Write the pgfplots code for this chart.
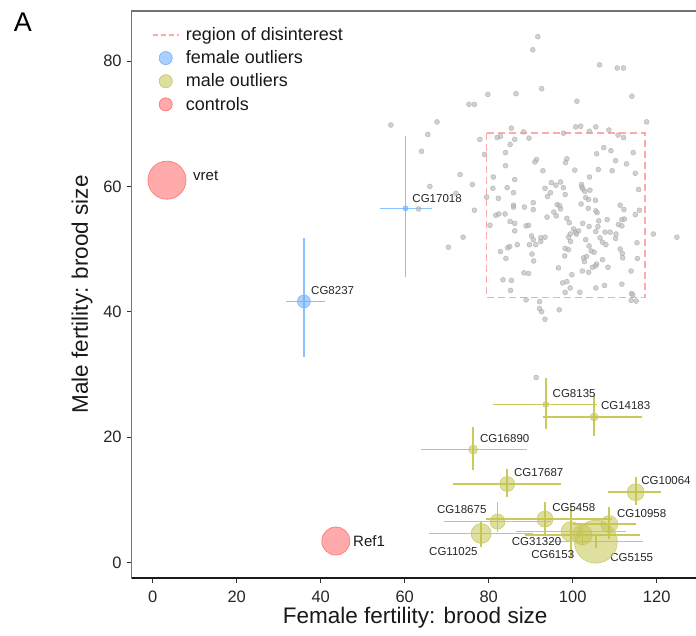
\documentclass[border=0pt]{standalone}
\usepackage{pgfplots}
\pgfplotsset{compat=1.18}
\usepackage{pgfplotstable}
\usepackage{fontspec}
\setmainfont{Liberation Sans}
\definecolor{dotfill}{HTML}{B8B8B8}
\definecolor{dotdraw}{HTML}{A8A8A8}
\definecolor{regionc}{HTML}{FFAAAA}
\definecolor{femfill}{HTML}{66AAFF}
\definecolor{femdraw}{HTML}{80BBFF}
\definecolor{femerr}{HTML}{88C2FF}
\definecolor{malfill}{HTML}{C4C450}
\definecolor{maldraw}{HTML}{CCCC70}
\definecolor{malerr}{HTML}{CACA5A}
\definecolor{ctlfill}{HTML}{FF6666}
\definecolor{ctldraw}{HTML}{FF8080}

\pgfplotstableread{
x y
91.7 83.9
90.5 81.8
92.6 75.6
79.8 74.7
86.5 74.8
75.3 73.1
76.6 73.1
67.7 70.3
65.5 68.3
64.0 65.6
85.4 69.3
88.3 68.7
77.9 67.5
82.0 67.8
82.8 68.0
86.2 67.5
89.6 67.7
85.1 66.7
84.0 65.4
79.0 65.1
91.0 63.9
91.4 64.3
84.0 63.3
92.9 62.5
73.2 61.9
81.1 61.5
86.2 61.1
106.4 79.4
110.6 78.9
112.1 78.9
101.0 73.6
114.1 74.4
117.6 70.3
100.7 69.5
101.9 69.6
105.5 69.5
97.8 68.5
104.0 68.8
108.6 69.0
110.8 68.2
112.1 67.8
107.4 66.2
109.1 65.7
105.7 65.2
114.4 65.4
98.6 64.4
98.3 63.8
110.2 64.1
112.8 63.6
100.5 62.6
106.1 62.7
109.4 62.5
114.9 62.1
104.0 61.5
66.0 60.0
76.1 60.3
72.2 58.9
81.0 59.7
84.4 59.8
85.9 59.0
93.4 59.7
94.0 58.4
79.5 58.3
82.3 58.1
63.3 56.4
76.6 56.2
85.9 57.0
85.9 56.7
88.5 56.7
90.6 57.4
90.6 56.3
81.7 55.4
82.4 55.6
83.9 55.6
93.9 55.1
85.1 54.4
86.2 54.1
80.3 53.8
88.9 53.7
89.5 53.8
86.2 52.9
73.9 51.9
70.4 50.3
90.2 52.1
90.6 51.5
92.4 51.8
93.4 51.9
92.4 51.2
86.8 50.7
89.7 50.7
91.2 50.7
84.5 50.2
85.0 50.4
82.8 49.6
84.1 48.5
90.3 49.2
90.7 48.1
88.4 46.2
89.5 46.1
83.4 45.1
85.4 45.0
85.2 43.4
88.9 41.9
92.1 41.6
92.1 40.5
92.6 40.0
93.4 38.8
97.1 60.7
94.9 60.6
96.0 60.2
97.8 59.8
102.1 60.3
102.2 59.9
102.4 59.6
102.9 59.2
104.1 59.4
94.7 59.0
98.2 58.7
103.1 58.2
103.8 57.9
105.4 57.8
115.7 59.5
102.0 57.2
96.3 57.1
96.9 56.9
97.1 56.4
103.7 56.5
105.5 56.1
105.8 55.8
111.3 57.0
112.2 56.3
114.9 55.5
115.9 56.2
95.5 55.9
96.1 55.3
98.6 54.9
99.2 54.2
102.4 54.1
106.2 54.5
108.2 54.7
111.7 54.7
112.3 54.8
110.9 53.9
111.7 53.7
103.9 53.6
106.0 53.6
100.2 53.2
101.4 52.9
100.6 52.7
100.9 52.4
105.5 52.8
107.7 52.7
108.9 52.7
110.3 52.4
99.4 52.4
99.0 51.9
106.5 51.8
110.2 51.7
103.1 51.5
99.5 51.2
107.1 51.1
107.9 50.7
119.2 52.4
124.8 51.9
115.3 51.0
103.9 50.5
98.2 50.1
99.0 49.9
104.4 49.7
105.1 49.5
111.3 50.0
111.8 49.3
111.9 48.6
115.4 48.5
98.1 48.9
102.6 48.6
103.3 48.8
102.8 48.0
107.1 48.3
105.7 47.6
105.4 47.3
104.7 47.1
108.4 47.1
96.6 47.0
103.8 46.3
102.3 46.5
99.8 45.9
113.9 46.5
98.6 44.8
97.6 44.6
99.4 43.8
105.5 43.8
107.6 44.2
111.7 44.4
98.2 43.1
101.7 43.1
114.0 42.9
114.3 42.7
113.9 41.8
115.1 41.7
96.8 40.3
56.7 69.8
91.3 29.5
}\graydots

% female outliers: CG8237, CG17018
\pgfplotstableread{
x y xm xp ym yp r
36.0 41.65 4.3 5.0 8.85 10.05 6.5
60.2 56.5 6.1 6.4 10.9 11.5 2.5
}\female

% male outliers: CG8135 CG14183 CG16890 CG17687 CG10064 CG18675 CG5458 CG11025 CG31320 CG6153 CG10958 CG5155
\pgfplotstableread{
x y xm xp ym yp r
93.6 25.2 12.5 12.1 3.9 4.3 3.0
105.1 23.2 12.2 11.3 3.0 3.5 4.0
76.3 18.0 12.4 12.7 3.2 3.6 4.5
84.4 12.5 12.8 12.8 2.1 2.4 7.5
115.0 11.2 6.7 6.0 2.1 2.5 8.5
82.1 6.5 12.7 12.7 1.7 3.1 7.5
93.4 6.9 14.0 16.0 2.3 2.8 8.0
78.2 4.6 12.4 12.4 2.1 2.0 10.0
99.6 4.9 13.0 13.0 4.0 4.0 10.0
102.3 4.4 13.7 13.7 1.8 1.9 10.0
108.7 6.1 8.6 6.4 2.3 2.7 8.5
105.5 3.3 11.2 11.2 1.0 1.3 21.5
}\male

% controls: vret, Ref1
\pgfplotstableread{
x y r
3.4 61.0 19.0
43.6 3.4 14.0
}\controls

\begin{document}
\begin{tikzpicture}
\useasboundingbox (0,0) rectangle (696pt,635pt);
\begin{axis}[
  at={(131.7pt,57pt)}, anchor=south west,
  scale only axis, width=567pt, height=567pt,
  xmin=-5, xmax=130, ymin=-2.5, ymax=88,
  xtick={0,20,...,120}, ytick={0,20,...,80},
  tick pos=left, tick align=outside, major tick length=4.5pt,
  tick style={black!80, line width=0.8pt},
  axis line style={black!55, line width=1.1pt},
  /pgf/number format/assume math mode=true,
  tick label style={font=\fontsize{16.5}{18}\selectfont, text=black!85},
  xticklabel style={yshift=-5pt},
  yticklabel style={xshift=-2pt},
  xlabel={Female fertility: brood size},
  ylabel={Male fertility: brood size},
  label style={font=\fontsize{22.5}{26}\selectfont, text=black!90},
  xlabel style={at={(axis description cs:0.5,-0.0705)}, anchor=center},
  ylabel style={at={(axis description cs:-0.0877,0.5)}, anchor=center},
  clip=false,
  legend cell align=left,
  legend style={at={(axis description cs:0.03,0.978)}, anchor=north west,
    draw=none, fill=none, font=\fontsize{18}{21}\selectfont,
    row sep=4.6pt, text=black!90},
]
\addlegendimage{legend image code/.code={\path (0pt,0pt) (31pt,0pt); \draw[regionc, line width=1.6pt, dash pattern=on 5pt off 3pt] (0pt,0pt) -- (26pt,0pt);}}
\addlegendentry{region of disinterest}
\addlegendimage{legend image code/.code={\path (0pt,0pt) (31pt,0pt); \fill[femfill, fill opacity=0.55] (13pt,0pt) circle (6.5pt); \draw[femdraw, line width=0.6pt] (13pt,0pt) circle (6.5pt);}}
\addlegendentry{female outliers}
\addlegendimage{legend image code/.code={\path (0pt,0pt) (31pt,0pt); \fill[malfill, fill opacity=0.55] (13pt,0pt) circle (6.5pt); \draw[maldraw, line width=0.6pt] (13pt,0pt) circle (6.5pt);}}
\addlegendentry{male outliers}
\addlegendimage{legend image code/.code={\path (0pt,0pt) (31pt,0pt); \fill[ctlfill, fill opacity=0.55] (13pt,0pt) circle (6.5pt); \draw[ctldraw, line width=0.6pt] (13pt,0pt) circle (6.5pt);}}
\addlegendentry{controls}

% background gray points
\addplot[only marks, mark=*, mark size=2.5pt, forget plot,
  mark options={fill=dotfill, draw=dotdraw, line width=0.4pt, fill opacity=0.65, draw opacity=0.8}]
  table[x=x, y=y] {\graydots};

% region of disinterest
\addplot[regionc, line width=1.6pt, dash pattern=on 7pt off 4pt, forget plot]
  coordinates {(79.5,68.5) (117.2,68.5) (117.2,42.3) (79.5,42.3) (79.5,68.5)};

% female outliers
\addplot[scatter, only marks, mark=*, forget plot,
  scatter/use mapped color={draw=femdraw, fill=femfill},
  mark options={fill opacity=0.55, line width=0.6pt},
  visualization depends on={\thisrow{r}\as\rr},
  scatter/@pre marker code/.append style={/tikz/mark size=\rr},
  error bars/.cd, x dir=both, x explicit, y dir=both, y explicit, error mark=none,
  error bar style={draw=femerr, line width=1.6pt}]
  table[x=x, y=y, x error minus=xm, x error plus=xp, y error minus=ym, y error plus=yp] {\female};

% male outliers
\addplot[scatter, only marks, mark=*, forget plot,
  scatter/use mapped color={draw=maldraw, fill=malfill},
  mark options={fill opacity=0.55, line width=0.6pt},
  visualization depends on={\thisrow{r}\as\rr},
  scatter/@pre marker code/.append style={/tikz/mark size=\rr},
  error bars/.cd, x dir=both, x explicit, y dir=both, y explicit, error mark=none,
  error bar style={draw=malerr, line width=1.6pt}]
  table[x=x, y=y, x error minus=xm, x error plus=xp, y error minus=ym, y error plus=yp] {\male};

% controls
\addplot[scatter, only marks, mark=*, forget plot,
  scatter/use mapped color={draw=ctldraw, fill=ctlfill},
  mark options={fill opacity=0.55, line width=0.8pt},
  visualization depends on={\thisrow{r}\as\rr},
  scatter/@pre marker code/.append style={/tikz/mark size=\rr}]
  table[x=x, y=y] {\controls};

\draw[black!90, line width=1.1pt] (rel axis cs:0,0) -- (rel axis cs:1,0);

\begin{scope}[every node/.style={inner sep=0pt, font=\fontsize{11.5}{13}\selectfont, text=black!85}]
\node[anchor=west] at (axis cs:37.7,43.45) {CG8237};
\node[anchor=west] at (axis cs:61.8,58.1) {CG17018};
\node[anchor=west] at (axis cs:95.2,27.0) {CG8135};
\node[anchor=west] at (axis cs:106.7,25.0) {CG14183};
\node[anchor=west] at (axis cs:77.9,19.7) {CG16890};
\node[anchor=west] at (axis cs:86.0,14.3) {CG17687};
\node[anchor=west] at (axis cs:116.3,13.0) {CG10064};
\node[anchor=east] at (axis cs:79.5,8.35) {CG18675};
\node[anchor=west] at (axis cs:95.1,8.7) {CG5458};
\node[anchor=west] at (axis cs:110.5,7.8) {CG10958};
\node[anchor=east] at (axis cs:77.4,1.8) {CG11025};
\node[anchor=east] at (axis cs:97.3,3.35) {CG31320};
\node[anchor=east] at (axis cs:100.4,1.3) {CG6153};
\node[anchor=west] at (axis cs:108.9,0.7) {CG5155};
\end{scope}
\node[anchor=west, inner sep=0pt, font=\fontsize{15}{17}\selectfont, text=black!90] at (axis cs:9.6,61.65) {vret};
\node[anchor=west, inner sep=0pt, font=\fontsize{15}{17}\selectfont, text=black!90] at (axis cs:47.7,3.4) {Ref1};
\end{axis}
\node[font=\fontsize{27}{30}\selectfont] at (23pt,613pt) {A};
\end{tikzpicture}
\end{document}
